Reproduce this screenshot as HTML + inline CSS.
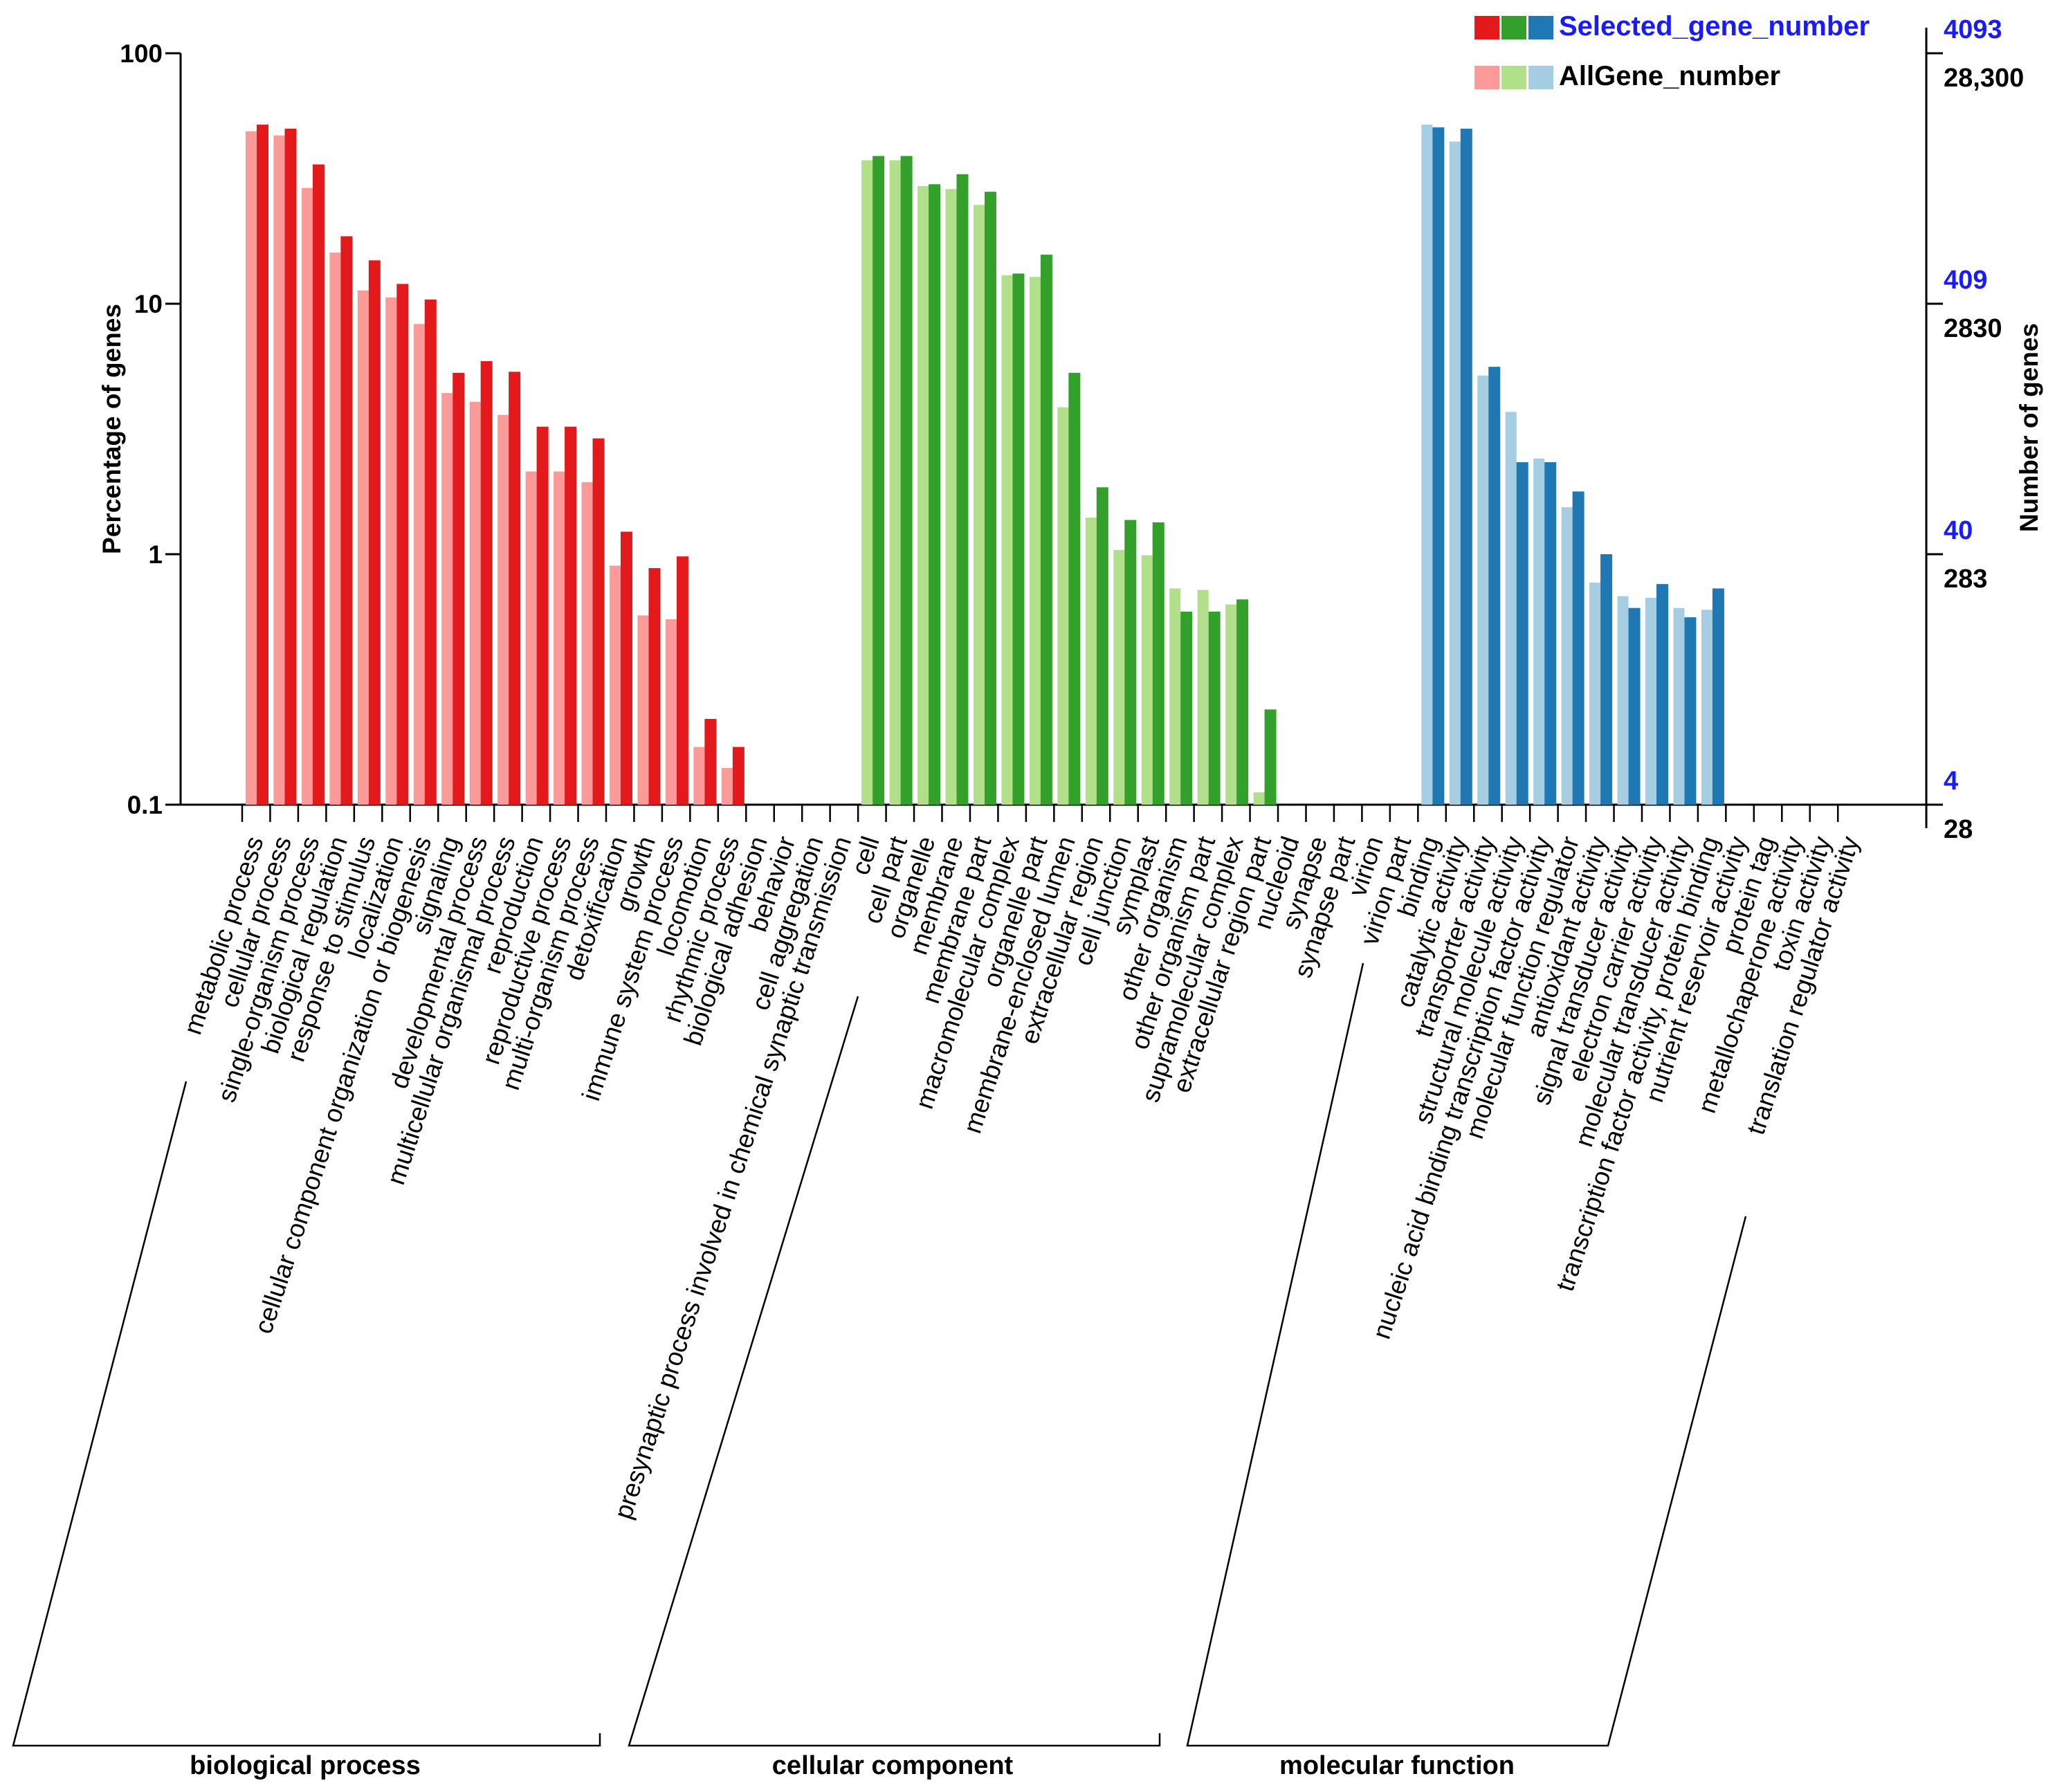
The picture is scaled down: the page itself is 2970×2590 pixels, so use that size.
<!DOCTYPE html>
<html><head><meta charset="utf-8"><style>
html,body{margin:0;padding:0;background:#fff;}
svg{display:block;font-family:"Liberation Sans",Arial,sans-serif;}
</style></head><body>
<svg id="chart" width="2970" height="2590" viewBox="0 0 2970 2590" xmlns="http://www.w3.org/2000/svg">
<g id="axes"></g>
<g id="bars"></g>
<g id="labels"></g>
<g id="groups"></g>
<g id="legend">
  <rect x="2131" y="23" width="36" height="34" fill="#e3191c"/>
  <rect x="2170" y="23" width="36" height="34" fill="#33a02c"/>
  <rect x="2209" y="23" width="36" height="34" fill="#1f78b4"/>
  <text x="2253" y="51" font-size="40" font-weight="bold" fill="#1a1aff">Selected_gene_number</text>
  <rect x="2131" y="95" width="36" height="34" fill="#fb9a99"/>
  <rect x="2170" y="95" width="36" height="34" fill="#b2df8a"/>
  <rect x="2209" y="95" width="36" height="34" fill="#a6cee3"/>
  <text x="2253" y="123" font-size="40" font-weight="bold" fill="#000">AllGene_number</text>
</g>
</svg>
<script>
const categories = ["metabolic process","cellular process","single-organism process","biological regulation","response to stimulus","localization","cellular component organization or biogenesis","signaling","developmental process","multicellular organismal process","reproduction","reproductive process","multi-organism process","detoxification","growth","immune system process","locomotion","rhythmic process","biological adhesion","behavior","cell aggregation","presynaptic process involved in chemical synaptic transmission",
"cell","cell part","organelle","membrane","membrane part","macromolecular complex","organelle part","membrane-enclosed lumen","extracellular region","cell junction","symplast","other organism","other organism part","supramolecular complex","extracellular region part","nucleoid","synapse","synapse part","virion","virion part",
"binding","catalytic activity","transporter activity","structural molecule activity","nucleic acid binding transcription factor activity","molecular function regulator","antioxidant activity","signal transducer activity","electron carrier activity","molecular transducer activity","transcription factor activity, protein binding","nutrient reservoir activity","protein tag","metallochaperone activity","toxin activity","translation regulator activity"];
const groupOf = [0,0,0,0,0,0,0,0,0,0,0,0,0,0,0,0,0,0,0,0,0,0,1,1,1,1,1,1,1,1,1,1,1,1,1,1,1,1,1,1,1,1,2,2,2,2,2,2,2,2,2,2,2,2,2,2,2,2];
const allGenePct = [48.8,47,29,16,11.3,10.6,8.3,4.4,4.06,3.6,2.14,2.14,1.94,0.9,0.57,0.55,0.17,0.14,0,0,0,0,
37.4,37.4,29.5,28.7,24.8,13,12.8,3.86,1.4,1.04,0.99,0.73,0.72,0.63,0.112,0,0,0,0,0,
51.9,44.4,5.17,3.7,2.41,1.54,0.77,0.68,0.67,0.61,0.6,0,0,0,0,0];
const selectedPct = [51.9,50,36,18.6,14.9,12,10.4,5.3,5.9,5.35,3.23,3.23,2.9,1.23,0.88,0.98,0.22,0.17,0,0,0,0,
38.9,38.9,30,32.9,28,13.2,15.7,5.3,1.85,1.37,1.34,0.59,0.59,0.66,0.24,0,0,0,0,0,
50.6,50,5.6,2.33,2.33,1.78,1.0,0.61,0.76,0.56,0.73,0,0,0,0,0];
const leftTicks = [100,10,1,0.1];
const rightSelectedTicks = ["4093","409","40","4"];
const rightAllTicks = ["28,300","2830","283","28"];
const groupNames = ["biological process","cellular component","molecular function"];

const NS="http://www.w3.org/2000/svg";
const lightCol=["#fb9a99","#b2df8a","#a6cee3"], darkCol=["#e3191c","#33a02c","#1f78b4"];
const Y100=77, DEC=362, Y01=Y100+3*DEC, X0=350, BW=40.46, LAX=261, RAX=2784;
function yScale(v){return Y100+(2-Math.log10(v))*DEC;}
function xBand(i){return X0+i*BW;}
function mk(tag,attrs,parent){const e=document.createElementNS(NS,tag);for(const k in attrs)e.setAttribute(k,attrs[k]);parent.appendChild(e);return e;}
const axes=document.getElementById('axes'),bars=document.getElementById('bars'),labels=document.getElementById('labels'),groups=document.getElementById('groups');

let l=mk('line',{x1:LAX,y1:Y100,x2:LAX,y2:Y01,stroke:'#000','stroke-width':3},axes);


leftTicks.forEach((v,i)=>{
  const y=yScale(v);
  let t=mk('line',{x1:LAX-22,y1:y,x2:LAX,y2:y,stroke:'#000','stroke-width':3},axes);
  
  
  let tx=mk('text',{x:LAX-26,y:y+13,'font-size':37,'font-weight':'bold','text-anchor':'end'},axes);
  tx.textContent=String(v);
  
  
});
let yt=mk('text',{x:0,y:0,'font-size':37,'font-weight':'bold','text-anchor':'middle',transform:'translate(174,620) rotate(-90)'},axes);
yt.textContent='Percentage of genes';


let xa=mk('line',{x1:243,y1:Y01,x2:RAX+24,y2:Y01,stroke:'#000','stroke-width':3},axes);


let ra=mk('line',{x1:RAX,y1:40,x2:RAX,y2:1197,stroke:'#000','stroke-width':3},axes);


leftTicks.forEach((v,i)=>{
  const y=yScale(v);
  let t=mk('line',{x1:RAX,y1:y,x2:RAX+24,y2:y,stroke:'#000','stroke-width':3},axes);
  
  
  let a=mk('text',{x:2809,y:y-22,'font-size':38,'font-weight':'bold',fill:'#1a1aff'},axes);
  a.textContent=rightSelectedTicks[i];
  
  
  let b=mk('text',{x:2809,y:y+48,'font-size':38,'font-weight':'bold',fill:'#000'},axes);
  b.textContent=rightAllTicks[i];
  
  
});
let rt=mk('text',{x:0,y:0,'font-size':37,'font-weight':'bold','text-anchor':'middle',transform:'translate(2945,618) rotate(-90)'},axes);
rt.textContent='Number of genes';



categories.forEach((c,i)=>{
  const x=xBand(i),g=groupOf[i];
  let tk=mk('line',{x1:x,y1:Y01,x2:x,y2:Y01+25,stroke:'#000','stroke-width':2.5},axes);
  
  
  if(allGenePct[i]>0){
    const y=yScale(allGenePct[i]);
    let r=mk('rect',{x:x+5,y:y,width:16,height:Y01-y,fill:lightCol[g]},bars);
    
    
  }
  if(selectedPct[i]>0){
    const y=yScale(selectedPct[i]);
    let r=mk('rect',{x:x+21,y:y,width:17,height:Y01-y,fill:darkCol[g]},bars);
    
    
  }
  let t=mk('text',{x:0,y:0,'font-size':37,'text-anchor':'end',transform:`translate(${x+31},1214) rotate(-72)`},labels);
  t.textContent=c;
  
  
});

const brackets=[
 {d:"M269,1563 L19,2523 L867,2523 L867,2505",lx:441},
 {d:"M1240,1440 L909,2523 L1676,2523 L1676,2505",lx:1290},
 {d:"M1970,1392 L1716,2523 L2324,2523 L2523,1758",lx:2019}];
brackets.forEach((b,i)=>{
  let p=mk('path',{d:b.d,fill:'none',stroke:'#000','stroke-width':2.5},groups);
  
  
  let t=mk('text',{x:b.lx,y:2564,'font-size':38,'font-weight':'bold','text-anchor':'middle'},groups);
  t.textContent=groupNames[i];
  
  
});
</script>
</body></html>
